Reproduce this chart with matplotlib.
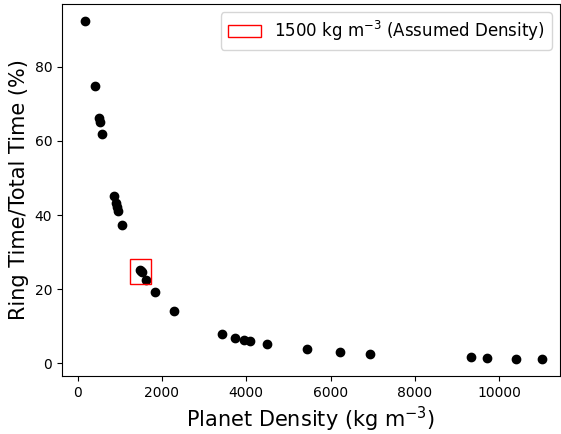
import matplotlib.pyplot as plt
from matplotlib.patches import Rectangle

# densidad del planeta (kg m^-3) y fracción de tiempo en anillo (%)
density = [173, 403, 513, 529, 576, 869, 909, 932, 956, 1051,
           1480, 1500, 1525, 1620, 1841, 2292, 3423, 3732, 3953, 4088,
           4491, 5433, 6230, 6935, 9331, 9710, 10406, 11008]
ring_frac = [92.3, 74.8, 66.1, 65.1, 61.9, 45.2, 43.2, 42.1, 41.2, 37.4,
             25.2, 24.9, 24.6, 22.6, 19.2, 14.2, 7.9, 6.9, 6.3, 6.0,
             5.2, 3.85, 3.05, 2.6, 1.6, 1.4, 1.26, 1.18]

assumed_density = 1500
box_x = (1250, 1750)
box_y = (21.5, 28.1)

fig = plt.figure(figsize=(5.61, 4.34), dpi=100)
ax = fig.add_axes([62 / 561, 1 - 376 / 434, 498 / 561, 372 / 434])
ax.scatter(density, ring_frac, color='black', zorder=3)

rect = Rectangle((box_x[0], box_y[0]), box_x[1] - box_x[0], box_y[1] - box_y[0],
                 fill=False, edgecolor='red', linewidth=1,
                 label=r'1500 kg m$^{-3}$ (Assumed Density)', zorder=4)
ax.add_patch(rect)

ax.set_xlim(-372, 11442)
ax.set_ylim(-3.4, 96.9)
ax.set_xlabel(r'Planet Density (kg m$^{-3}$)', fontsize=15)
ax.set_ylabel('Ring Time/Total Time (%)', fontsize=15)
ax.legend(fontsize=12, loc='upper right')

plt.savefig('out.png', dpi=100)
